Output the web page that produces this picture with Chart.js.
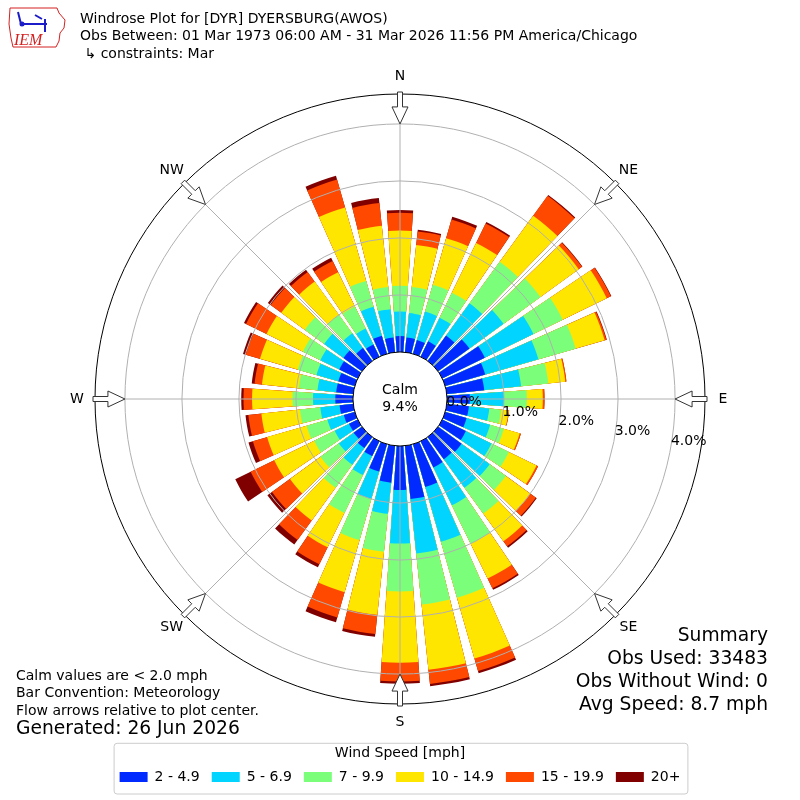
<!DOCTYPE html>
<html>
<head>
<meta charset="utf-8">
<script src="https://cdn.jsdelivr.net/npm/chart.js"></script>
<style>
  html, body { margin: 0; padding: 0; background: #fff; }
  #windrose { display: block; }
</style>
</head>
<body>
<canvas id="windrose" width="800" height="800"></canvas>
<script>
// DIRECTIONS OF THE 36 SECTORS (DEGREES, METEOROLOGICAL)
const directions = [0, 10, 20, 30, 40, 50, 60, 70, 80, 90, 100, 110, 120, 130, 140, 150, 160, 170,
  180, 190, 200, 210, 220, 230, 240, 250, 260, 270, 280, 290, 300, 310, 320, 330, 340, 350];

const speedBins = ["2 - 4.9", "5 - 6.9", "7 - 9.9", "10 - 14.9", "15 - 19.9", "20+"];
const speedColors = ["#002aff", "#00d4ff", "#7bff7b", "#ffe600", "#ff4800", "#800000"];

// PERCENT OF OBS PER DIRECTION, ONE ARRAY PER SPEED BIN
const spd2to5 = [0.28, 0.26, 0.25, 0.30, 0.55, 0.68, 0.83, 0.73, 0.66, 0.40, 0.39, 0.39,
  0.46, 0.51, 0.48, 0.51, 0.78, 0.94, 0.77, 0.65, 0.50, 0.29, 0.24, 0.18,
  0.17, 0.20, 0.24, 0.31, 0.30, 0.30, 0.36, 0.40, 0.28, 0.24, 0.33, 0.26];
const spd5to7 = [0.43, 0.43, 0.52, 0.46, 0.70, 0.74, 0.95, 0.97, 0.65, 0.60, 0.36, 0.43,
  0.50, 0.61, 0.62, 0.74, 1.00, 0.96, 0.94, 0.55, 0.50, 0.37, 0.36, 0.32,
  0.28, 0.30, 0.34, 0.39, 0.33, 0.40, 0.37, 0.42, 0.32, 0.31, 0.53, 0.50];
const spd7to10 = [0.45, 0.46, 0.49, 0.49, 0.90, 0.80, 0.57, 0.68, 0.48, 0.40, 0.21, 0.25,
  0.34, 0.35, 0.56, 0.75, 1.02, 0.90, 0.84, 0.67, 0.75, 0.74, 0.50, 0.40,
  0.40, 0.38, 0.36, 0.36, 0.33, 0.34, 0.34, 0.42, 0.40, 0.43, 0.47, 0.39];
const spd10to15 = [0.97, 0.74, 0.85, 0.97, 1.00, 0.83, 0.86, 0.53, 0.30, 0.28, 0.13, 0.29,
  0.54, 0.53, 0.60, 0.68, 1.11, 1.15, 1.25, 1.11, 0.95, 0.67, 0.71, 0.66,
  0.78, 0.72, 0.68, 0.71, 0.65, 0.69, 0.71, 0.51, 0.72, 0.67, 1.34, 1.08];
const spd15to20 = [0.31, 0.24, 0.34, 0.38, 0.43, 0.07, 0.08, 0.03, 0.02, 0.03, 0.01, 0.02,
  0.03, 0.12, 0.11, 0.19, 0.23, 0.25, 0.33, 0.34, 0.46, 0.33, 0.42, 0.39,
  0.46, 0.26, 0.23, 0.15, 0.13, 0.26, 0.40, 0.23, 0.21, 0.22, 0.51, 0.40];
const spd20plus = [0.05, 0.03, 0.05, 0.03, 0.02, 0.01, 0.01, 0.01, 0.00, 0.00, 0.00, 0.00,
  0.00, 0.02, 0.03, 0.03, 0.04, 0.04, 0.04, 0.05, 0.09, 0.06, 0.10, 0.10,
  0.30, 0.08, 0.05, 0.04, 0.05, 0.05, 0.04, 0.06, 0.05, 0.06, 0.07, 0.09];

const ringTicks = [0, 1, 2, 3, 4];
const compassLabels = ["N", "NE", "E", "SE", "S", "SW", "W", "NW"];
const calmPercent = 9.4;

const headerLines = [
  "Windrose Plot for [DYR] DYERSBURG(AWOS)",
  "Obs Between: 01 Mar 1973 06:00 AM - 31 Mar 2026 11:56 PM America/Chicago",
  " \u21b3 constraints: Mar",
];
const noteLines = ["Calm values are < 2.0 mph", "Bar Convention: Meteorology", "Flow arrows relative to plot center."];
const generatedText = "Generated: 26 Jun 2026";
const summaryLines = ["Summary", "Obs Used: 33483", "Obs Without Wind: 0", "Avg Speed: 8.7 mph"];

const FONT = "'DejaVu Sans', 'Liberation Sans', sans-serif";
Chart.defaults.font.family = FONT;
Chart.defaults.color = "#000";

// BAR OPENING IN DEGREES, THE REST OF EACH 10 DEGREE SECTOR IS A GAP
const barOpening = 8;

// EVERY SECTOR IS ONE BAR SLOT PLUS ONE EMPTY GAP SLOT
const labels = [];
directions.forEach((d) => {
  labels.push(d + "\u00b0");
  labels.push("");
});

// STACK THE BINS: EACH DATASET HOLDS THE RUNNING TOTAL, SMALLEST ONE DRAWN ON TOP
const binValues = [spd2to5, spd5to7, spd7to10, spd10to15, spd15to20, spd20plus];
let running = directions.map(() => 0);
const datasets = binValues.map((vals, k) => {
  running = running.map((t, i) => t + vals[i]);
  const data = [];
  running.forEach((t) => {
    data.push(Math.round(t * 1000) / 1000);
    data.push(0);
  });
  return {
    label: speedBins[k],
    data: data,
    backgroundColor: (ctx) => (ctx.dataIndex % 2 === 0 ? speedColors[k] : "rgba(0,0,0,0)"),
    borderWidth: 0,
    angle: (ctx) => (ctx.dataIndex % 2 === 0 ? barOpening : 10 - barOpening),
  };
});

function polarPoint(scale, deg, rad) {
  const a = (deg * Math.PI) / 180;
  return [scale.xCenter + rad * Math.sin(a), scale.yCenter - rad * Math.cos(a)];
}

function drawArrow(ctx, scale, deg, rTip, rTail) {
  const a = (deg * Math.PI) / 180;
  const ux = Math.sin(a), uy = -Math.cos(a);
  const vx = -uy, vy = ux;
  const head = rTip + 17;
  const pts = [[rTip, 0], [head, 8], [head, 2.5], [rTail, 2.5], [rTail, -2.5], [head, -2.5], [head, -8]];
  ctx.beginPath();
  pts.forEach(([s, t], i) => {
    const x = scale.xCenter + ux * s + vx * t;
    const y = scale.yCenter + uy * s + vy * t;
    if (i === 0) ctx.moveTo(x, y);
    else ctx.lineTo(x, y);
  });
  ctx.closePath();
  ctx.fillStyle = "#fff";
  ctx.fill();
  ctx.strokeStyle = "#333";
  ctx.lineWidth = 1;
  ctx.stroke();
}

function drawLogo(ctx) {
  //ROUGH IEM LOGO: STATE OUTLINE, STATION SYMBOL AND LETTERS
  ctx.save();
  ctx.strokeStyle = "#d42020";
  ctx.lineWidth = 1;
  ctx.beginPath();
  ctx.moveTo(10, 8);
  ctx.lineTo(57, 8);
  ctx.lineTo(59, 13);
  ctx.lineTo(65, 20);
  ctx.lineTo(64, 28);
  ctx.lineTo(60, 33);
  ctx.lineTo(59, 41);
  ctx.lineTo(56, 47);
  ctx.lineTo(13, 47);
  ctx.lineTo(11, 38);
  ctx.lineTo(9, 24);
  ctx.closePath();
  ctx.stroke();
  ctx.strokeStyle = "#1c1cc8";
  ctx.fillStyle = "#1c1cc8";
  ctx.lineWidth = 2;
  ctx.beginPath();
  ctx.moveTo(18, 12);
  ctx.lineTo(21, 24);
  ctx.moveTo(20, 24);
  ctx.lineTo(47, 24);
  ctx.moveTo(35, 15);
  ctx.lineTo(42, 19);
  ctx.moveTo(45, 19);
  ctx.lineTo(45, 32);
  ctx.stroke();
  ctx.beginPath();
  ctx.arc(22, 24, 2.5, 0, Math.PI * 2);
  ctx.fill();
  ctx.font = "italic 16px 'Liberation Serif', serif";
  ctx.fillStyle = "#d42020";
  ctx.textAlign = "left";
  ctx.textBaseline = "alphabetic";
  ctx.fillText("IEM", 14, 45);
  ctx.restore();
}

const windroseDecor = {
  id: "windroseDecor",
  afterDraw(chart) {
    const ctx = chart.ctx;
    const r = chart.scales.r;
    const rOuter = r.drawingArea;
    const rCalm = r.getDistanceFromCenterForValue(0);
    const rTip = r.getDistanceFromCenterForValue(ringTicks[ringTicks.length - 1]);
    ctx.save();

    // DIRECTION LINES ON TOP OF THE BARS
    ctx.strokeStyle = "#b0b0b0";
    ctx.lineWidth = 1;
    compassLabels.forEach((lab, i) => {
      const [x0, y0] = polarPoint(r, i * 45, rCalm);
      const [x1, y1] = polarPoint(r, i * 45, rOuter);
      ctx.beginPath();
      ctx.moveTo(x0, y0);
      ctx.lineTo(x1, y1);
      ctx.stroke();
    });

    // FRAME CIRCLE
    ctx.strokeStyle = "#000";
    ctx.beginPath();
    ctx.arc(r.xCenter, r.yCenter, rOuter, 0, Math.PI * 2);
    ctx.stroke();

    // CALM CIRCLE
    ctx.beginPath();
    ctx.arc(r.xCenter, r.yCenter, rCalm, 0, Math.PI * 2);
    ctx.fillStyle = "#fff";
    ctx.fill();
    ctx.strokeStyle = "#000";
    ctx.stroke();

    ctx.fillStyle = "#000";
    ctx.font = "14px " + FONT;
    ctx.textAlign = "center";
    ctx.textBaseline = "middle";
    ctx.fillText("Calm", r.xCenter, r.yCenter - 9);
    ctx.fillText(calmPercent.toFixed(1) + "%", r.xCenter, r.yCenter + 8);

    // ARROWS AND COMPASS LABELS
    compassLabels.forEach((lab, i) => {
      drawArrow(ctx, r, i * 45, rTip, rOuter + 2);
      const [lx, ly] = polarPoint(r, i * 45, rOuter + 18);
      ctx.fillStyle = "#000";
      ctx.font = "14px " + FONT;
      ctx.textAlign = "center";
      ctx.textBaseline = "middle";
      ctx.fillText(lab, lx, ly);
    });

    // RING LABELS ALONG THE 100 DEGREE RAY
    ctx.textAlign = "left";
    ctx.textBaseline = "alphabetic";
    ringTicks.forEach((v) => {
      const [tx, ty] = polarPoint(r, 100, r.getDistanceFromCenterForValue(v));
      ctx.fillText(v.toFixed(1) + "%", tx, ty - 1.5);
    });

    // HEADER
    drawLogo(ctx);
    ctx.fillStyle = "#000";
    ctx.font = "14px " + FONT;
    ctx.textAlign = "left";
    ctx.textBaseline = "middle";
    headerLines.forEach((t, i) => ctx.fillText(t, 80, 19 + i * 17.5));

    // NOTES BOTTOM LEFT
    noteLines.forEach((t, i) => ctx.fillText(t, 16, 676 + i * 17.5));
    ctx.font = "18.7px " + FONT;
    ctx.fillText(generatedText, 16, 729);

    // SUMMARY BOTTOM RIGHT
    ctx.textAlign = "right";
    summaryLines.forEach((t, i) => ctx.fillText(t, 768, 636 + i * 23));

    // LEGEND FRAME
    const lg = chart.legend;
    if (lg && lg.legendHitBoxes && lg.legendHitBoxes.length) {
      const boxes = lg.legendHitBoxes;
      const left = boxes[0].left - 6;
      const last = boxes[boxes.length - 1];
      const right = last.left + last.width + 7;
      const top = lg.top;
      const bottom = lg.bottom - 0.5;
      ctx.strokeStyle = "#cccccc";
      ctx.lineWidth = 1;
      ctx.beginPath();
      ctx.roundRect(left + 0.5, top + 0.5, right - left, bottom - top, 3);
      ctx.stroke();
    }
    ctx.restore();
  },
};

const config = {
  type: "polarArea",
  data: { labels: labels, datasets: datasets },
  options: {
    responsive: false,
    animation: false,
    devicePixelRatio: 1,
    events: [],
    layout: { padding: { left: 95, right: 95, top: 56, bottom: 6 } },
    scales: {
      r: {
        min: -0.825,
        max: 4.525,
        startAngle: -barOpening / 2,
        afterBuildTicks: (scale) => {
          scale.ticks = ringTicks.map((v) => ({ value: v }));
        },
        ticks: { display: false },
        pointLabels: { display: false },
        angleLines: { display: false },
        grid: {
          circular: true,
          z: 1,
          lineWidth: 1,
          color: (ctx) => (ctx.tick && ctx.tick.value === 0 ? "rgba(0,0,0,0)" : "#b0b0b0"),
        },
      },
    },
    plugins: {
      tooltip: { enabled: false },
      legend: {
        position: "bottom",
        onClick: () => {},
        title: {
          display: true,
          text: "Wind Speed [mph]",
          color: "#000",
          font: { size: 14, lineHeight: 0.8 },
          padding: { top: 4, bottom: 0 },
        },
        labels: {
          color: "#000",
          font: { size: 14 },
          boxWidth: 28,
          boxHeight: 10,
          padding: 12,
          generateLabels: (chart) =>
            chart.data.datasets.map((ds, i) => ({
              text: ds.label,
              fillStyle: speedColors[i],
              strokeStyle: speedColors[i],
              lineWidth: 0,
              hidden: false,
              datasetIndex: i,
            })),
        },
      },
    },
  },
  plugins: [windroseDecor],
};

const chart = new Chart(document.getElementById("windrose"), config);
</script>
</body>
</html>
